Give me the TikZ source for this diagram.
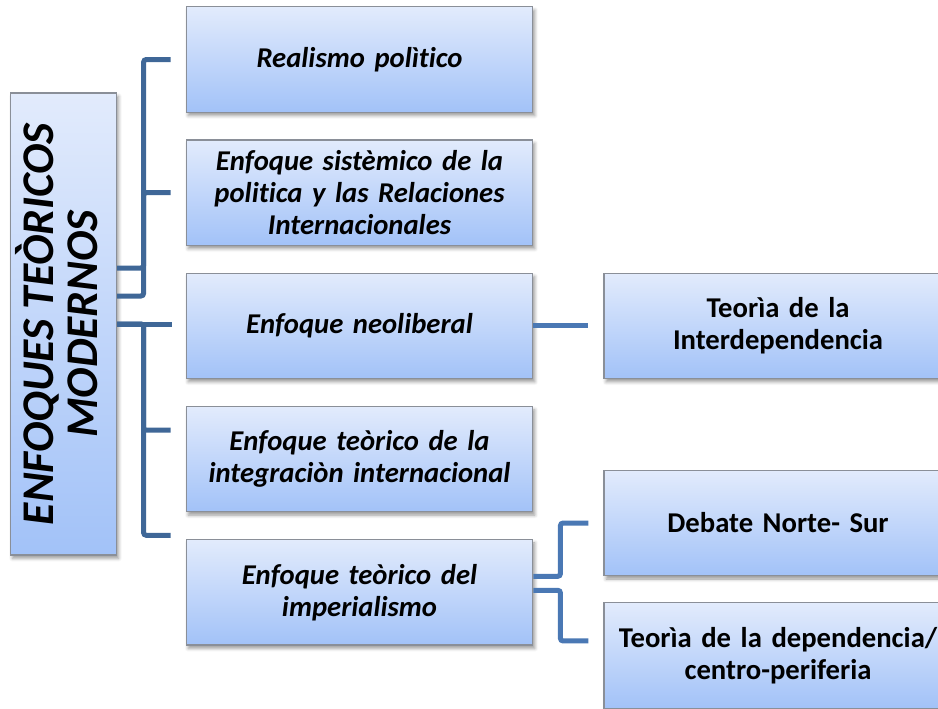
\documentclass[tikz,border=0pt]{standalone}
\usepackage{fontspec}
\setmainfont[Ligatures=NoCommon]{Carlito}
\usepackage{tikz}
\usetikzlibrary{positioning, shadows.blur}
\definecolor{BoxTop}{HTML}{E2EBFC}
\definecolor{BoxBottom}{HTML}{A2C2F8}
\definecolor{BoxEdge}{HTML}{8A8F98}
\definecolor{LinkDark}{HTML}{3F6797}
\definecolor{LinkLight}{HTML}{4A78B4}
\tikzset{
  basebox/.style={rectangle, draw=BoxEdge, line width=0.9pt, top color=BoxTop, bottom color=BoxBottom, align=center, blur shadow={shadow xshift=1.5pt, shadow yshift=-2.5pt, shadow blur radius=2.5pt, shadow opacity=40}},
  rootbox/.style={basebox, minimum width=79.5pt, minimum height=346.5pt, inner sep=0pt, font=\fontsize{34}{33}\selectfont\bfseries\itshape},
  topicbox/.style={basebox, minimum width=260pt, minimum height=79pt, text width=255pt, inner sep=2pt, font=\fontsize{21.5}{24}\selectfont\bfseries\itshape},
  theorybox/.style={basebox, minimum width=261pt, minimum height=79pt, text width=255pt, inner sep=2pt, font=\fontsize{21.5}{24}\selectfont\bfseries},
  linkdark/.style={line width=3.75pt, LinkDark, rounded corners=2pt},
  linklight/.style={line width=3.75pt, LinkLight, rounded corners=2pt}
}
\begin{document}
\begin{tikzpicture}[x=0.75pt, y=-0.75pt]
  \useasboundingbox (0,0) rectangle (938,708);

  \node[rootbox] (enfoques) at (63.5,324) {\rotatebox{90}{\begin{tabular}{@{}c@{}}ENFOQUES TEÒRICOS\\MODERNOS\end{tabular}}};

  \node[topicbox] (realismo) at (359.5,59.5) {Realismo polìtico};
  \node[topicbox, below=20pt of realismo] (sistemico) {Enfoque sistèmico de la\\politica y las Relaciones\\Internacionales};
  \node[topicbox, below=20pt of sistemico] (neoliberal) {Enfoque neoliberal};
  \node[topicbox, below=20pt of neoliberal] (integracion) {Enfoque teòrico de la\\integraciòn internacional};
  \node[topicbox, below=20pt of integracion] (imperialismo) {Enfoque teòrico del\\imperialismo};

  \node[theorybox, right=52.5pt of neoliberal] (interdep) {Teorìa de la\\Interdependencia};
  \node[theorybox] (norte) at (interdep |- 0,523) {Debate Norte- Sur};
  \node[theorybox] (dependencia) at (interdep |- 0,655.5) {Teorìa de la dependencia/\\centro-periferia};

  \draw[linkdark] ([yshift=42pt]enfoques.east) -- ++(26.5,0) |- ([xshift=-11.25pt]realismo.west);
  \draw[linkdark] ([yshift=21pt]enfoques.east) -- ++(26.5,0) |- ([xshift=-11.25pt]sistemico.west);
  \draw[linkdark] (enfoques.east) -- ++(55,0);
  \draw[linkdark] (enfoques.east) -- ++(26.5,0) |- ([xshift=-11.25pt, yshift=21.75pt]integracion.west);
  \draw[linkdark] (enfoques.east) -- ++(26.5,0) |- ([xshift=-11.25pt, yshift=42.75pt]imperialismo.west);

  \draw[linklight] (neoliberal.east) -- ([xshift=-11.25pt]interdep.west);
  \draw[linklight] ([yshift=12pt]imperialismo.east) -- ++(27,0) |- ([xshift=-11.25pt]norte.west);
  \draw[linklight] ([yshift=1.5pt]imperialismo.east) -- ++(27,0) |- ([xshift=-11.25pt, yshift=10.9pt]dependencia.west);
\end{tikzpicture}
\end{document}
